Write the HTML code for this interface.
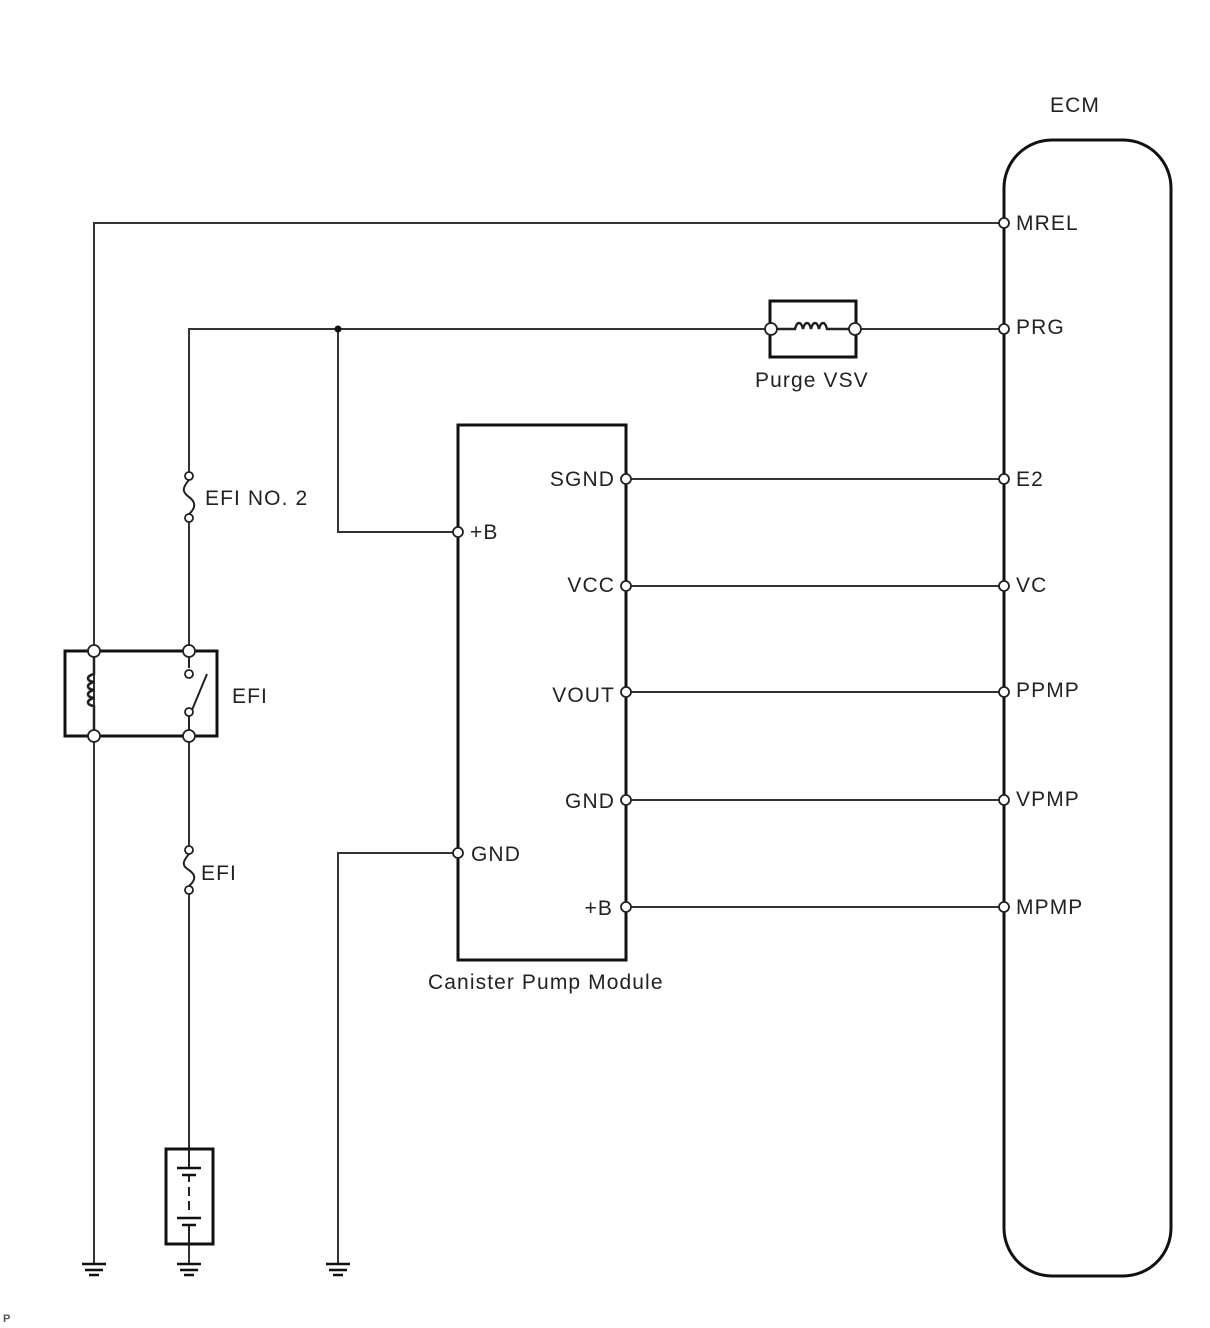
<!DOCTYPE html>
<html><head><meta charset="utf-8"><style>
html,body{margin:0;padding:0;background:#fff;}
svg{display:block;}
text{font-family:"Liberation Sans",Arial,sans-serif;font-size:21px;letter-spacing:1.1px;fill:#222;}
</style></head><body>
<svg width="1210" height="1328" viewBox="0 0 1210 1328" xmlns="http://www.w3.org/2000/svg">
<g fill="none" stroke="#333" stroke-width="2">
<polyline points="1004,223 94,223 94,1263"/>
<polyline points="771,329 189,329 189,476"/>
<line x1="855" y1="329" x2="1004" y2="329"/>
<polyline points="338,329 338,532 458,532"/>
<line x1="189" y1="518" x2="189" y2="651"/>
<line x1="189" y1="736" x2="189" y2="850"/>
<line x1="189" y1="890" x2="189" y2="1263"/>
<polyline points="458,853 338,853 338,1263"/>
<line x1="626" y1="479" x2="1004" y2="479"/>
<line x1="626" y1="586" x2="1004" y2="586"/>
<line x1="626" y1="692" x2="1004" y2="692"/>
<line x1="626" y1="800" x2="1004" y2="800"/>
<line x1="626" y1="907" x2="1004" y2="907"/>
</g>
<g fill="none" stroke="#111" stroke-width="3">
<rect x="1004" y="140" width="167" height="1136" rx="48" ry="48"/>
<rect x="458" y="425" width="168" height="535"/>
<rect x="770" y="301" width="86" height="56"/>
<rect x="65" y="651" width="152" height="85"/>
<rect x="166" y="1149" width="47" height="95" fill="#fff"/>
</g>
<g fill="none" stroke="#222" stroke-width="2">
<path d="M189,480 C182,488 182,492 189,497 C196,502 196,508 189,514"/>
<path d="M189,854 C182,862 182,866 189,870 C196,875 196,880 189,886"/>
<path d="M94,651 L94,674 C86,676 86,681 94,682 C86,684 86,689 94,690 C86,692 86,697 94,698 C86,700 86,705 94,706 L94,736" stroke-width="2.5"/>
<path d="M189,651 L189,668"/>
<line x1="192" y1="710" x2="207" y2="674"/>
<line x1="189" y1="713" x2="189" y2="736"/>
<path d="M775,329 L795,329 C797,321 801,321 803,329 C805,321 809,321 811,329 C813,321 817,321 819,329 C821,321 825,321 827,329 L851,329" stroke-width="2.5"/>
<line x1="189" y1="1149" x2="189" y2="1168"/>
<line x1="189" y1="1174" x2="189" y2="1182"/>
<line x1="189" y1="1187" x2="189" y2="1196"/>
<line x1="189" y1="1201" x2="189" y2="1210"/>
<line x1="189" y1="1225" x2="189" y2="1244"/>
</g>
<g stroke="#111" stroke-width="2.5">
<line x1="177" y1="1168" x2="201" y2="1168"/>
<line x1="182" y1="1175" x2="196" y2="1175"/>
<line x1="177" y1="1218" x2="201" y2="1218"/>
<line x1="182" y1="1225" x2="196" y2="1225"/>
</g>
<g stroke="#111" stroke-width="2.5">
<line x1="82" y1="1264" x2="106" y2="1264"/><line x1="85" y1="1270" x2="103" y2="1270"/><line x1="89" y1="1275" x2="99" y2="1275"/>
<line x1="177" y1="1264" x2="201" y2="1264"/><line x1="180" y1="1270" x2="198" y2="1270"/><line x1="184" y1="1275" x2="194" y2="1275"/>
<line x1="326" y1="1264" x2="350" y2="1264"/><line x1="329" y1="1270" x2="347" y2="1270"/><line x1="333" y1="1275" x2="343" y2="1275"/>
</g>
<circle cx="338" cy="329" r="3.5" fill="#111"/>
<g fill="#fff" stroke="#222" stroke-width="1.8">
<circle cx="1004" cy="223" r="5"/><circle cx="1004" cy="329" r="5"/><circle cx="1004" cy="479" r="5"/>
<circle cx="1004" cy="586" r="5"/><circle cx="1004" cy="692" r="5"/><circle cx="1004" cy="800" r="5"/><circle cx="1004" cy="907" r="5"/>
<circle cx="626" cy="479" r="5"/><circle cx="626" cy="586" r="5"/><circle cx="626" cy="692" r="5"/><circle cx="626" cy="800" r="5"/><circle cx="626" cy="907" r="5"/>
<circle cx="458" cy="532" r="5"/><circle cx="458" cy="853" r="5"/>
<circle cx="771" cy="329" r="6"/><circle cx="855" cy="329" r="6"/>
<circle cx="94" cy="651" r="6"/><circle cx="189" cy="651" r="6"/><circle cx="94" cy="736" r="6"/><circle cx="189" cy="736" r="6"/>
<circle cx="189" cy="674" r="4"/><circle cx="189" cy="712" r="4"/>
<circle cx="189" cy="476" r="4"/><circle cx="189" cy="518" r="4"/>
<circle cx="189" cy="850" r="4"/><circle cx="189" cy="890" r="4"/>
</g>
<text x="1050" y="112">ECM</text>
<text x="1016" y="230">MREL</text>
<text x="1016" y="334">PRG</text>
<text x="1016" y="486">E2</text>
<text x="1016" y="592">VC</text>
<text x="1016" y="697">PPMP</text>
<text x="1016" y="806">VPMP</text>
<text x="1016" y="914">MPMP</text>
<text x="615" y="486" text-anchor="end">SGND</text>
<text x="615" y="592" text-anchor="end">VCC</text>
<text x="615" y="702" text-anchor="end">VOUT</text>
<text x="615" y="808" text-anchor="end">GND</text>
<text x="613" y="915" text-anchor="end">+B</text>
<text x="470" y="539">+B</text>
<text x="471" y="861">GND</text>
<text x="428" y="989">Canister Pump Module</text>
<text x="755" y="387">Purge VSV</text>
<text x="205" y="505">EFI NO. 2</text>
<text x="232" y="703">EFI</text>
<text x="201" y="880">EFI</text>
<text x="3" y="1322" style="font-size:11px;letter-spacing:0;font-weight:bold;fill:#555">P</text>
</svg>
</body></html>
